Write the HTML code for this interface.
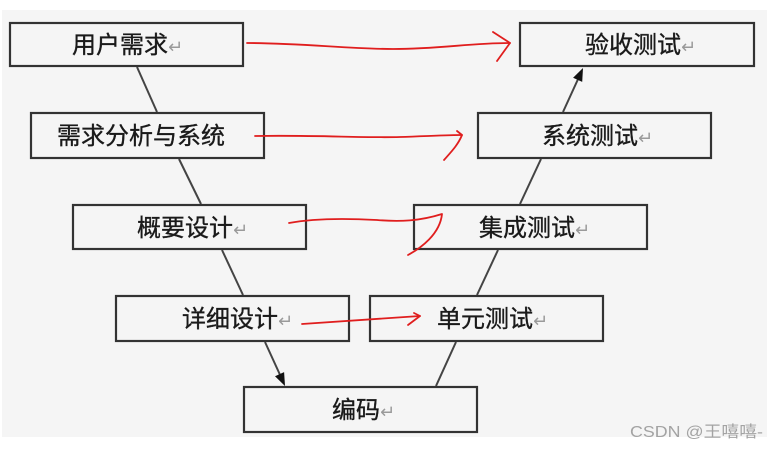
<!DOCTYPE html>
<html>
<head>
<meta charset="utf-8">
<style>
  html, body { margin: 0; padding: 0; background: #ffffff; }
  svg { display: block; }
  .box { fill: #f5f5f5; stroke: #333333; stroke-width: 2.2; }
  .ln { stroke: #444; stroke-width: 2; fill: none; }
  .red { stroke: #e01e1e; stroke-width: 1.8; fill: none; stroke-linecap: round; stroke-linejoin: round; }
  .t { font-family: "Liberation Sans", "Noto Sans CJK SC", "WenQuanYi Zen Hei", sans-serif; font-size: 24px; fill: #1a1a1a; stroke: #1a1a1a; stroke-width: 0.35px; }
  .rt { font-family: "DejaVu Sans", sans-serif; font-size: 18px; fill: #9a9a9a; stroke: none; }
</style>
</head>
<body>
<svg width="782" height="452" viewBox="0 0 782 452" xmlns="http://www.w3.org/2000/svg">
  <rect x="0" y="0" width="782" height="452" fill="#ffffff"/>
  <rect x="2" y="10" width="765" height="427" fill="#f5f5f5"/>

  <!-- connectors -->
  <line class="ln" x1="137" y1="67" x2="157" y2="112"/>
  <line class="ln" x1="179" y1="159" x2="201" y2="204"/>
  <line class="ln" x1="222" y1="250" x2="243" y2="295"/>
  <line class="ln" x1="265" y1="342" x2="281" y2="377"/>
  <polygon points="285,386 284.1,372.1 275.0,376.3" fill="#111"/>
  <line class="ln" x1="436" y1="386" x2="456" y2="342"/>
  <line class="ln" x1="477" y1="295" x2="498" y2="250"/>
  <line class="ln" x1="520" y1="204" x2="541" y2="159"/>
  <line class="ln" x1="563" y1="112" x2="579" y2="77"/>
  <polygon points="583,68 582.2,81.9 573.1,77.7" fill="#111"/>

  <!-- boxes -->
  <rect class="box" x="10" y="23" width="233" height="43"/>
  <rect class="box" x="31" y="113" width="233" height="45"/>
  <rect class="box" x="73" y="205" width="233" height="44"/>
  <rect class="box" x="116" y="296" width="233" height="45"/>
  <rect class="box" x="244" y="387" width="233" height="45"/>
  <rect class="box" x="370" y="296" width="233" height="45"/>
  <rect class="box" x="414" y="205" width="233" height="44"/>
  <rect class="box" x="478" y="113" width="233" height="45"/>
  <rect class="box" x="520" y="23" width="234" height="43"/>

  <!-- labels -->
  <text class="t" x="72" y="53">用户需求<tspan class="rt" dx="0">↵</tspan></text>
  <text class="t" x="57" y="144">需求分析与系统</text>
  <text class="t" x="137" y="236">概要设计<tspan class="rt" dx="0">↵</tspan></text>
  <text class="t" x="182" y="327">详细设计<tspan class="rt" dx="0">↵</tspan></text>
  <text class="t" x="332" y="418">编码<tspan class="rt" dx="0">↵</tspan></text>
  <text class="t" x="437" y="327">单元测试<tspan class="rt" dx="0">↵</tspan></text>
  <text class="t" x="479" y="236">集成测试<tspan class="rt" dx="0">↵</tspan></text>
  <text class="t" x="542" y="144">系统测试<tspan class="rt" dx="0">↵</tspan></text>
  <text class="t" x="585" y="53">验收测试<tspan class="rt" dx="0">↵</tspan></text>

  <!-- red hand-drawn arrows -->
  <path class="red" d="M247,43 C300,43 350,49 393,49 C440,49 470,43 510,43"/>
  <path class="red" d="M493,32 L510,43 L497,61"/>

  <path class="red" d="M255,136 C320,135 360,138 400,137 C430,136 450,135 462,135"/>
  <path class="red" d="M457,131 L462,135 C458,145 451,152 444,160"/>

  <path class="red" d="M289,223 C310,219 340,218 377,220 C400,222 420,221 442,214 C440,234 421,248 408,255"/>

  <path class="red" d="M302,324 L420,316"/>
  <path class="red" d="M414,313 L420,316 L408,325"/>

  <!-- watermark -->
  <text x="630" y="437" font-family="Liberation Sans, Noto Sans CJK SC, sans-serif" font-size="16" fill="#a3a3a3" textLength="133" lengthAdjust="spacingAndGlyphs">CSDN @王嘻嘻-</text>
</svg>
</body>
</html>
